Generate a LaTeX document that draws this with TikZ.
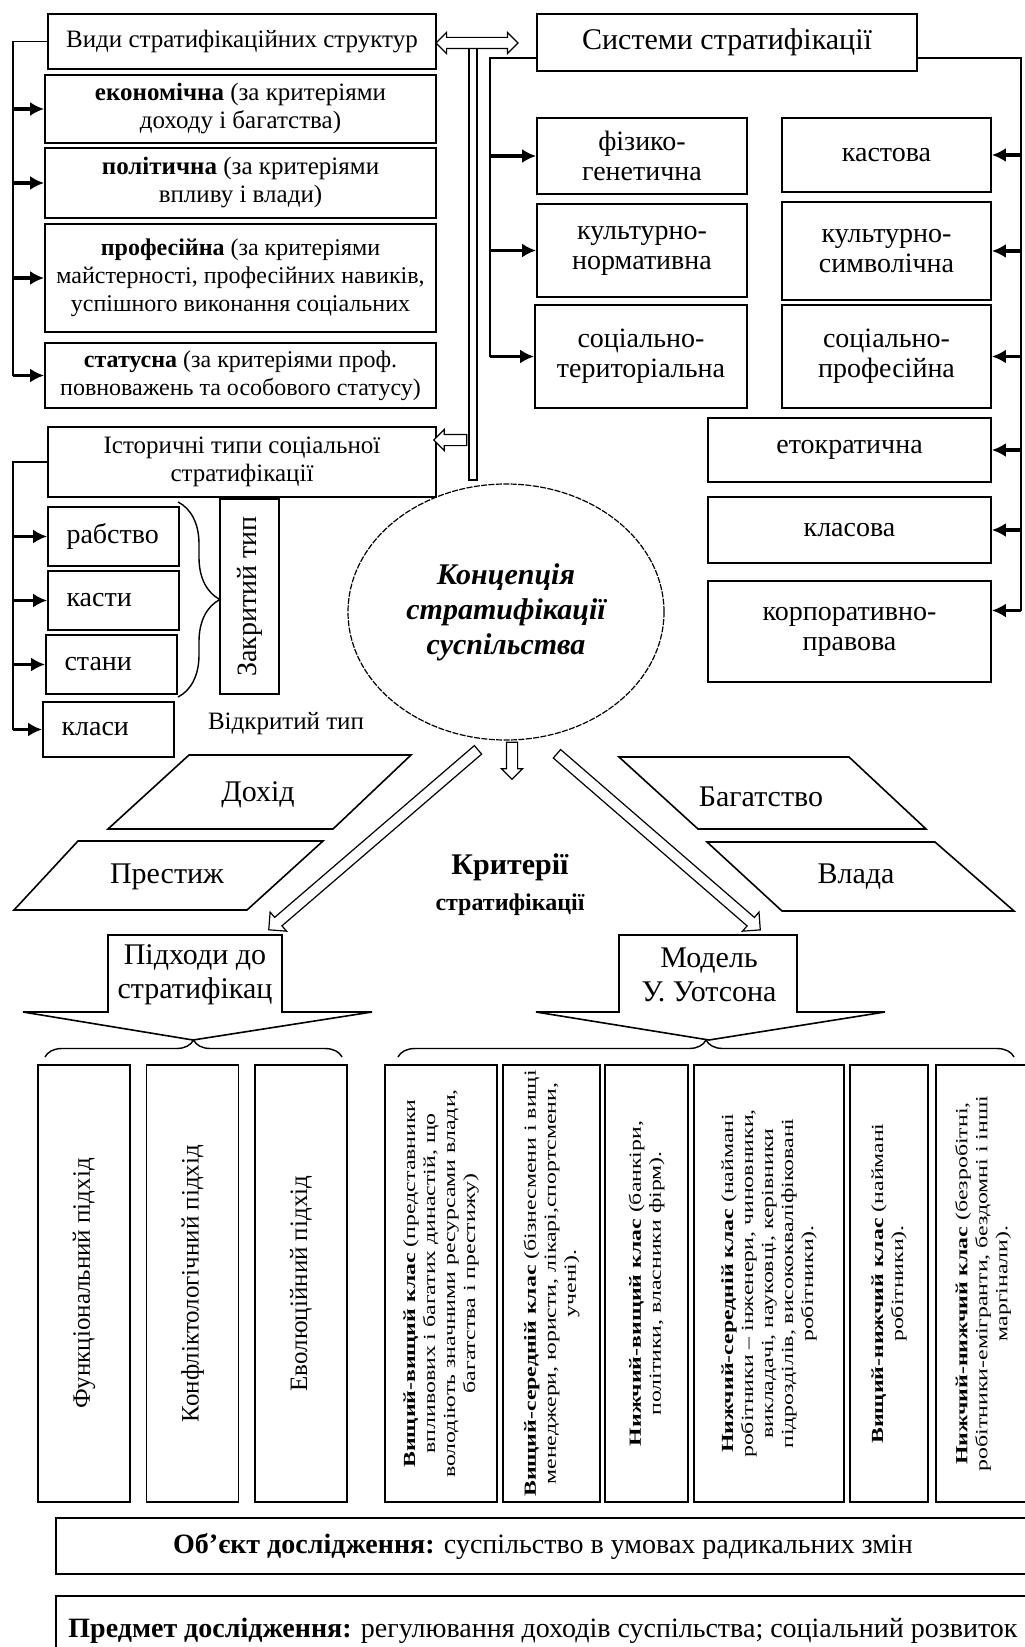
\documentclass[tikz,border=0pt]{standalone}
\usepackage{fontspec}
\setmainfont{Liberation Serif}
\newfontfamily\widefont[FakeStretch=1.4]{Liberation Serif}
\usetikzlibrary{shapes.geometric,shapes.arrows,arrows.meta,decorations.pathreplacing}

\newcommand{\upx}{0.5pt}
\tikzset{
  box/.style={draw, line width=0.9pt, inner sep=0pt, align=center},
  area/.style args={#1/#2/#3/#4}{at={({(#1+#3)/2},{(#2+#4)/2})},
    minimum width={(#3-#1)*0.5pt}, minimum height={(#4-#2)*0.5pt}},
  link/.style={line width=0.7pt},
  outline/.style={line width=0.8pt},
  arr/.style={line width=1.6pt, -{Latex[length=7pt,width=7pt]}},
  hollow/.style={draw, line width=0.6pt, fill=white, inner xsep=0pt, inner ysep=2.5pt},
  brace/.style={line width=0.7pt, decorate, decoration={brace, amplitude=#1}},
  f12/.style={font=\fontsize{12}{14}\selectfont},
  f13/.style={font=\fontsize{12.5}{14}\selectfont},
  f14/.style={font=\fontsize{14}{15}\selectfont},
  f15/.style={font=\fontsize{15}{17}\selectfont},
  fw/.style={font=\widefont\fontsize{8.5}{10}\selectfont},
}

\begin{document}
\begin{tikzpicture}[x=0.5pt, y=-0.5pt]
\useasboundingbox (0,0) rectangle (1024,1647);

% Types of structures
\node[box, f13, area=48/14/436/69] (vydy) {Види стратифікаційних структур};
\node[box, f13, area=45/75/436/143] (econ) {\textbf{економічна} (за критеріями\\доходу і багатства)};
\node[box, f13, area=45/148/436/218] (pol) {\textbf{політична} (за критеріями\\впливу і влади)};
\node[box, f12, area=45/224/436/332] (prof) {\textbf{професійна} (за критеріями\\майстерності, професійних навиків,\\успішного виконання соціальних};
\node[box, f12, area=45/343/436/408] (stat) {\textbf{статусна} (за критеріями проф.\\повноважень та особового статусу)};
\coordinate (vl) at (13,41.5);
\draw[link] (vydy.west) -- (vl) -- (vl |- stat.west);
\foreach \n in {econ,pol,prof,stat}
  \draw[arr] (vl |- \n.west) -- (\n.west);

% Historical types
\node[box, f13, area=48/427/436/497] (hist) {Історичні типи соціальної\\стратифікації};
\foreach \n/\xa/\ya/\xb/\yb/\t in {rab/48/507/179/566/рабство, kas/48/571/179/630/касти,
    stn/46/635/177/694/стани, kls/43/702/174/757/класи}
  \node[box, f14, align=left, text width=47pt, area=\xa/\ya/\xb/\yb] (\n) {\t};
\coordinate (hl) at (13,462);
\draw[link] (hist.west) -- (hl) -- (hl |- kls.west);
\foreach \n in {rab,kas,stn,kls}
  \draw[arr] (hl |- \n.west) -- (\n.west);
\draw[brace=21pt] (178,502) -- (178,697);
\node[box, f14, rotate=90, minimum width=195*\upx, minimum height=59*\upx] (closed) at (249.5,596.5) {Закритий тип};
\node[f13] (open) at (286,724) {Відкритий тип};

% Systems of stratification
\node[box, f15, area=537/14/917/71] (sys) {Системи стратифікації};
\foreach \n/\xa/\ya/\xb/\yb/\t in {
    fiz/537/118/747/194/фізико-\\генетична,
    norm/537/204/747/297/культурно-\\нормативна,
    ter/535/305/747/408/соціально-\\територіальна,
    kast/782/118/991/192/кастова,
    simv/782/202/991/300/культурно-\\символічна,
    sprof/782/305/991/408/соціально-\\професійна,
    etok/708/418/991/482/етократична,
    klas/708/497/991/563/класова,
    corp/708/581/991/682/корпоративно-\\правова}
  \node[box, f14, area=\xa/\ya/\xb/\yb] (\n) {\t};
\coordinate (sl) at (490,58);
\draw[link] (sl -| sys.west) -- (sl) -- (sl |- ter.west);
\foreach \n in {fiz,norm,ter}
  \draw[arr] (sl |- \n.west) -- (\n.west);
\coordinate (sr) at (1021,58);
\coordinate (corpin) at ([yshift=10.5pt]corp.east);
\draw[link] (sr -| sys.east) -- (sr) -- (sr |- corpin);
\foreach \n in {kast,simv,sprof,etok,klas}
  \draw[arr] (sr |- \n.east) -- (\n.east);
\draw[arr] (sr |- corpin) -- (corpin);

% Double line and hollow arrows
\draw[line width=0.6pt, fill=white] (469,48) rectangle (477,480);
\node[double arrow, hollow, minimum height=82*\upx, minimum width=20*\upx, double arrow head extend=2.5pt] (both) at (477,43) {};
\node[single arrow, hollow, rotate=180, minimum height=33*\upx, minimum width=20*\upx, single arrow head extend=2.5pt] (tohist) at (453,440) {};

% Concept
\node[ellipse, draw, line width=0.6pt, dash pattern=on 3pt off 0.7pt, minimum width=316*\upx, minimum height=256*\upx,
  align=center, font=\fontsize{15}{17.5}\selectfont\bfseries\itshape] (concept) at (506,612) {Концепція\\стратифікації\\суспільства};
\node[single arrow, hollow, rotate=-90, minimum height=37*\upx, minimum width=20*\upx, single arrow head extend=2.5pt] (down) at (512,758) {};
\node[single arrow, hollow, rotate=-139.3, minimum height=276*\upx, minimum width=24*\upx, single arrow head extend=3.5pt] (toappr) at (375.5,838) {};
\node[single arrow, hollow, rotate=-40.9, minimum height=269*\upx, minimum width=24*\upx, single arrow head extend=3.5pt] (tomodel) at (656.5,840) {};

% Criteria
\draw[outline] (189,755) -- (411,755) -- (333,829) -- (108,829) -- cycle;
\draw[outline] (78,841) -- (323,841) -- (247,910) -- (14,910) -- cycle;
\draw[outline] (619,757) -- (849,757) -- (926,829) -- (698,829) -- cycle;
\draw[outline] (707,842) -- (935,842) -- (1014,911) -- (782,911) -- cycle;
\node[f15] (dokhid) at (258,795) {Дохід};
\node[f15] (prestyzh) at (167,877) {Престиж};
\node[f15] (bahatstvo) at (761,797) {Багатство};
\node[f15] (vlada) at (856,877) {Влада};
\node[align=center, font=\fontsize{15}{18}\selectfont\bfseries] (crit) at (510,885) {Критерії\\{\fontsize{12}{14}\selectfont стратифікації}};

% Approaches and model
\draw[outline] (108,935) -- (282,935) -- (282,1012) -- (372,1012) -- (193,1040) -- (23,1012) -- (108,1012) -- cycle;
\draw[outline] (619,935) -- (797,935) -- (797,1012) -- (885,1012) -- (709,1040) -- (536,1012) -- (619,1012) -- cycle;
\node[f15, align=center] (appr) at (195,975) {Підходи до\\стратифікац};
\node[f15, align=center] (model) at (709,975) {Модель\\У. Уотсона};
\draw[brace=8.5pt] (45,1057) -- (342,1057);
\draw[brace=8.5pt] (398,1057) -- (1014,1057);

\foreach \n/\x/\t in {func/84/Функціональний підхід, conf/192.5/Конфліктологічний підхід, evol/301/Еволюційний підхід}
  \node[box, font=\fontsize{12.5}{14}\selectfont, rotate=90, minimum width=437*\upx, minimum height=92*\upx] (\n) at (\x,1283.5) {\t};

% Watson classes
\node[box, fw, rotate=90, minimum width=437*\upx, minimum height=112*\upx] (c1) at (441,1283.5)
  {\textbf{Вищий-вищий клас} (представники\\впливових і багатих династій, що\\володіють значними ресурсами влади,\\багатства і престижу)};
\node[box, fw, rotate=90, minimum width=437*\upx, minimum height=97*\upx] (c2) at (551.5,1283.5)
  {\textbf{Вищий-середній клас} (бізнесмени і вищі\\менеджери, юристи, лікарі,спортсмени,\\учені).};
\node[box, fw, rotate=90, minimum width=437*\upx, minimum height=83*\upx] (c3) at (646.5,1283.5)
  {\textbf{Нижчий-вищий клас} (банкіри,\\політики, власники фірм).};
\node[box, fw, rotate=90, minimum width=437*\upx, minimum height=150*\upx] (c4) at (769,1283.5)
  {\textbf{Нижчий-середній клас} (наймані\\робітники – інженери, чиновники,\\викладачі, науковці, керівники\\підрозділів, висококваліфіковані\\робітники).};
\node[box, fw, rotate=90, minimum width=437*\upx, minimum height=78*\upx] (c5) at (889,1283.5)
  {\textbf{Вищий-нижчий клас} (наймані\\робітники).};
\node[box, fw, rotate=90, minimum width=437*\upx, minimum height=94*\upx] (c6) at (983,1283.5)
  {\textbf{Нижчий-нижчий клас} (безробітні,\\робітники-емігранти, бездомні і інші\\маргінали).};

% Object and subject
\node[box, f14, area=56/1518/1030/1574] (obj) {\textbf{Об’єкт дослідження:} суспільство в умовах радикальних змін};
\node[box, f14, area=56/1596/1030/1665] (pred) {\textbf{Предмет дослідження:} регулювання доходів суспільства; соціальний розвиток};
\end{tikzpicture}
\end{document}
